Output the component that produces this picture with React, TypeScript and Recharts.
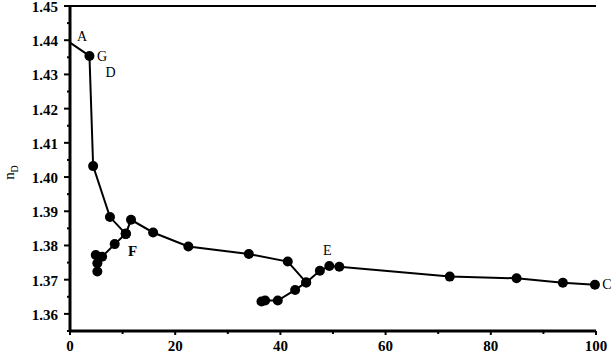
import { LineChart, Line, XAxis, YAxis, ReferenceLine, ReferenceDot } from 'recharts';

const xTicks = [0, 10, 20, 30, 40, 50, 60, 70, 80, 90, 100];
const yTicks = [1.355, 1.36, 1.365, 1.37, 1.375, 1.38, 1.385, 1.39, 1.395, 1.4, 1.405, 1.41, 1.415, 1.42, 1.425, 1.43, 1.435, 1.44, 1.445, 1.45];

// branches of the curve, [x, nD]
const branchAG = [[0, 1.4393], [3.7, 1.4354]];
const branchGF = [[3.7, 1.4354], [4.4, 1.4032], [7.6, 1.3883], [10.6, 1.3834]];
const branchFH = [[10.6, 1.3834], [8.5, 1.3804], [6.1, 1.3767], [4.9, 1.3772], [5.2, 1.3748], [5.2, 1.3724]];
const branchFE = [[10.6, 1.3834], [11.6, 1.3875], [15.8, 1.3838], [22.5, 1.3797], [34.0, 1.3775], [41.4, 1.3753], [44.9, 1.3692]];
const branchEC = [[36.4, 1.3636], [37.1, 1.3639], [39.5, 1.3639], [42.8, 1.367], [44.9, 1.3692], [47.5, 1.3726], [49.3, 1.374], [51.2, 1.3738], [72.2, 1.3709], [84.9, 1.3704], [93.7, 1.3691], [99.8, 1.3685]];

const pointLabels = [
  { text: 'A', x: 2.3, y: 1.4412, bold: false },
  { text: 'G', x: 6.1, y: 1.4351, bold: false },
  { text: 'D', x: 7.7, y: 1.4306, bold: false },
  { text: 'F', x: 11.9, y: 1.3784, bold: true },
  { text: 'E', x: 48.9, y: 1.3784, bold: false },
  { text: 'C', x: 102.1, y: 1.3685, bold: false },
];

const toRows = (pts: number[][]) => pts.map(([x, y]) => ({ x, y }));

const font = '"Liberation Serif", "Times New Roman", serif';

const YTick = (props: any) => {
  const { x, y, payload, showLabel } = props;
  const v = payload.value;
  const major = Math.round(v * 1000) % 10 === 0;
  return (
    <g>
      <line x1={x} y1={y} x2={x - (major ? 6 : 3)} y2={y} stroke="#000" strokeWidth={2} />
      {showLabel && major && (
        <text x={x - 12} y={y + 1} textAnchor="end" dominantBaseline="central" fontSize={15} fontWeight="bold" fontFamily={font} fill="#000">
          {v.toFixed(2)}
        </text>
      )}
    </g>
  );
};

const XTick = (props: any) => {
  const { x, y, payload } = props;
  const v = payload.value;
  const major = v % 20 === 0;
  return (
    <g>
      <line x1={x} y1={y} x2={x} y2={y + (major ? 4 : 3)} stroke="#000" strokeWidth={2} />
      {major && (
        <text x={x} y={y + 15} textAnchor="middle" dominantBaseline="central" fontSize={15} fontWeight="bold" fontFamily={font} fill="#000">
          {v}
        </text>
      )}
    </g>
  );
};

const YLabel = (props: any) => {
  const { viewBox } = props;
  const cx = viewBox.x + 14;
  const cy = viewBox.y + viewBox.height / 2 + 4;
  return (
    <text transform={`translate(${cx},${cy}) rotate(-90)`} textAnchor="middle" fontFamily={font} fontSize={15} fill="#000">
      n<tspan fontSize={10} dy={4}>D</tspan>
    </text>
  );
};

const dotStyle = { r: 5, fill: '#000', stroke: 'none' };

export default function App() {
  const series = [branchGF, branchFH, branchFE, branchEC];
  return (
    <div style={{ position: 'absolute', left: 0, top: 0, background: '#fff' }}>
      <LineChart width={616} height={355} margin={{ top: 6, right: 20, bottom: 0, left: 0 }} style={{ fontFamily: font }}>
        <XAxis
          dataKey="x"
          type="number"
          domain={[0, 100]}
          ticks={xTicks}
          interval={0}
          height={24}
          tickSize={0}
          tickMargin={0}
          tickLine={false}
          axisLine={{ stroke: '#000', strokeWidth: 3 }}
          tick={<XTick />}
        />
        <YAxis
          yAxisId="l"
          type="number"
          domain={[1.355, 1.45]}
          ticks={yTicks}
          interval={0}
          width={70}
          tickSize={0}
          tickMargin={0}
          tickLine={false}
          axisLine={{ stroke: '#000', strokeWidth: 3 }}
          tick={<YTick showLabel />}
          label={{ content: <YLabel /> }}
        />
        <YAxis
          yAxisId="r"
          orientation="right"
          type="number"
          domain={[1.355, 1.45]}
          ticks={yTicks}
          interval={0}
          width={0}
          tickSize={0}
          tickMargin={0}
          tickLine={false}
          axisLine={{ stroke: '#000', strokeWidth: 3 }}
          tick={<YTick />}
        />
        <ReferenceLine yAxisId="l" y={1.45} stroke="#000" strokeWidth={2} />
        <Line
          yAxisId="l"
          data={toRows(branchAG)}
          dataKey="y"
          stroke="#000"
          strokeWidth={2}
          dot={false}
          isAnimationActive={false}
        />
        {series.map((s, i) => (
          <Line
            key={i}
            yAxisId="l"
            data={toRows(s)}
            dataKey="y"
            stroke="#000"
            strokeWidth={2}
            dot={dotStyle}
            isAnimationActive={false}
          />
        ))}
        {pointLabels.map((p) => (
          <ReferenceDot
            key={p.text}
            yAxisId="l"
            x={p.x}
            y={p.y}
            r={0}
            ifOverflow="visible"
            shape={(sp: any) => (
              <text x={sp.cx} y={sp.cy} textAnchor="middle" dominantBaseline="central" fontFamily={font} fontSize={p.bold ? 15 : 14} fontWeight={p.bold ? 'bold' : 'normal'} fill="#000">
                {p.text}
              </text>
            )}
          />
        ))}
      </LineChart>
    </div>
  );
}
